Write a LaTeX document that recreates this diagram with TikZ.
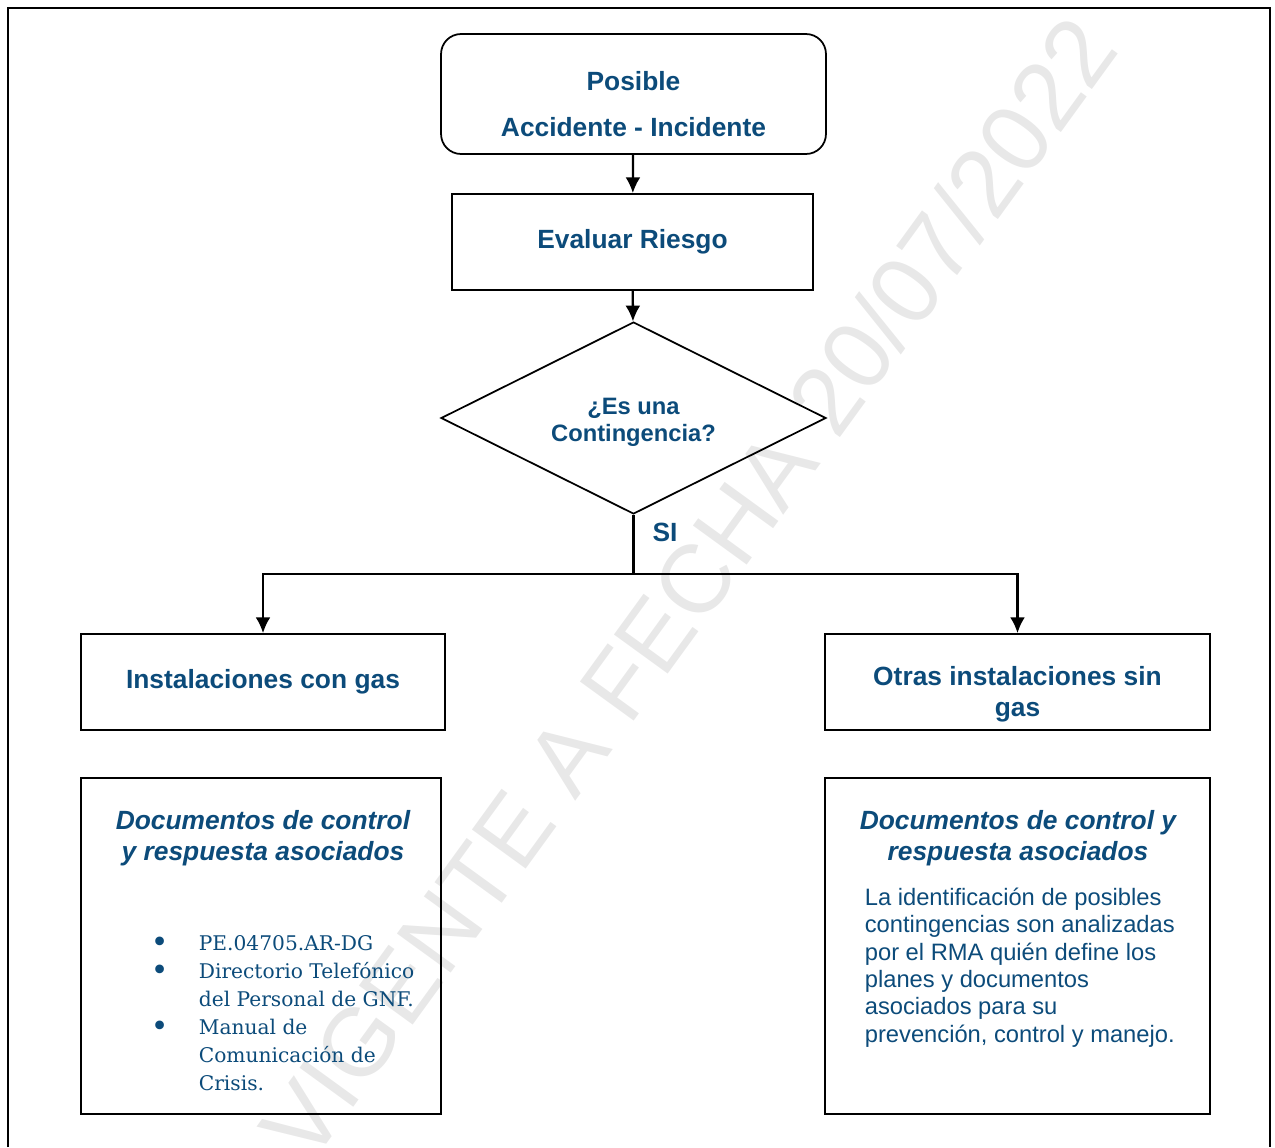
\documentclass[tikz,border=0pt]{standalone}
\usepackage{fontspec}
\setmainfont{Liberation Sans}
\newfontfamily\listafont{DejaVu Serif}
\usetikzlibrary{shapes.geometric,arrows.meta}
\definecolor{azulgnf}{RGB}{12,75,122}
\definecolor{marcagris}{RGB}{232,232,232}

\begin{document}
\begin{tikzpicture}[>={Latex[length=9pt,width=8.5pt]},x=0.02cm,y=-0.02cm,line width=1pt,
    caja/.style={draw,inner sep=0pt,minimum height=1.92cm,text=azulgnf,
      align=center,font=\fontsize{15}{17.6}\selectfont\bfseries},
    titulo/.style={text=azulgnf,align=center,inner sep=0pt,
      font=\fontsize{15}{17.6}\selectfont\bfseries},
    doctitulo/.style={titulo,font=\fontsize{15}{17.6}\selectfont\bfseries\itshape},
    pregunta/.style={draw,diamond,aspect=2,inner sep=0pt,minimum width=7.7cm,
      minimum height=3.84cm},
    docbox/.style={draw,inner sep=0pt,minimum height=6.72cm},
    flecha/.style={line width=1.3pt}]
  % marco y marca de agua
  \useasboundingbox (0,0) rectangle (1275,1147);
  \node[rotate=54,text=marcagris,font=\fontsize{55}{60}\selectfont] (marca)
    at (688,588) {VIGENTE A FECHA 20/07/2022};
  \draw[line width=1.3pt] (8,1147) -- (8,8) -- (1270,8) -- (1270,1147);
  %
  \node[caja,rounded corners=0.4cm,minimum width=7.7cm,minimum height=2.4cm]
    (posible) at (633.5,94) {};
  \node[titulo] (posibletxt) at (633.5,104) {Posible\\[9pt]Accidente - Incidente};
  \node[caja,minimum width=7.22cm] (evaluar) at (632.5,242) {Evaluar Riesgo};
  \node[pregunta] (contingencia) at (633.5,418) {};
  \node[titulo,font=\fontsize{13.5}{15.3}\selectfont\bfseries] (contingenciatxt)
    at (633.5,422) {¿Es una\\Contingencia?};
  \coordinate (rama) at (633.5,574);
  \node[titulo] (si) at (665,532) {SI};
  \node[caja,minimum width=7.28cm] (congas) at (263,682) {Instalaciones con gas};
  \node[caja,minimum width=7.7cm] (singas) at (1017.5,682) {};
  \node[titulo] (singastxt) at (1017.5,694) {Otras instalaciones sin\\gas};
  %
  \draw[flecha,->] (posible) -- (evaluar);
  \draw[flecha,->] (evaluar) -- (contingencia);
  \draw[flecha] (contingencia.south) -- (rama);
  \draw[flecha,->] (rama) -| (congas);
  \draw[flecha,->] (rama) -| (singas);
  %
  \node[docbox,minimum width=7.2cm] (docgas) at (261,946) {};
  \node[doctitulo] (docgastit) at (263,838) {Documentos de control\\y respuesta asociados};
  \node[anchor=north west,inner sep=0pt,text=azulgnf,
    font=\listafont\fontsize{11.5}{15.9}\selectfont] (docgaslista) at (150,930)
    {\begin{tabular}{@{}p{0.96cm}@{}l@{}}
      {\fontsize{17}{15.9}\selectfont\raisebox{-1.2pt}{\textbullet}} & PE.04705.AR-DG\\
      {\fontsize{17}{15.9}\selectfont\raisebox{-1.2pt}{\textbullet}} & Directorio Telefónico\\
                  & del Personal de GNF.\\
      {\fontsize{17}{15.9}\selectfont\raisebox{-1.2pt}{\textbullet}} & Manual de\\
                  & Comunicación de\\
                  & Crisis.
    \end{tabular}};
  %
  \node[docbox,minimum width=7.7cm] (docsin) at (1017.5,946) {};
  \node[doctitulo] (docsintit) at (1018,838) {Documentos de control y\\respuesta asociados};
  \node[anchor=north west,inner sep=0pt,text=azulgnf,align=left,
    font=\fontsize{13.5}{15.6}\selectfont] (docsintxt) at (864,887)
    {La identificación de posibles\\contingencias son analizadas\\por el RMA quién define los\\planes y documentos\\asociados para su\\prevención, control y manejo.};
\end{tikzpicture}
\end{document}
